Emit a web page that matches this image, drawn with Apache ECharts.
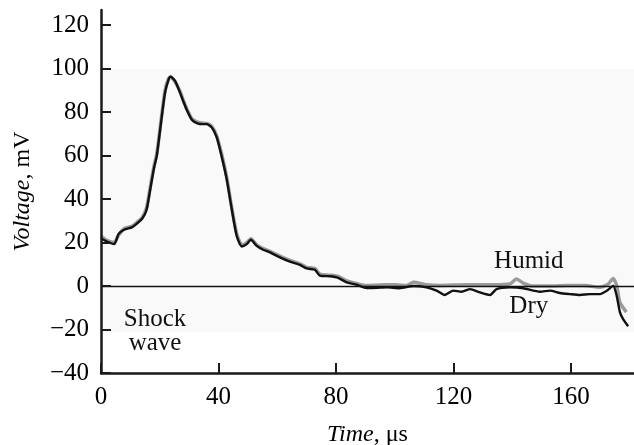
<!DOCTYPE html>
<html><head><meta charset="utf-8">
<script src="https://cdn.jsdelivr.net/npm/echarts@6/dist/echarts.min.js"></script>
<style>html,body{margin:0;padding:0;background:#fff}#c{width:634px;height:445px}</style>
</head><body><div id="c"></div>
<script>
const xTicks = [0, 40, 80, 120, 160];
const yTicks = [-40, -20, 0, 20, 40, 60, 80, 100, 120];

const dryTime = [0,2,4.5,6,8,10.5,12,14,15.5,16.7,18,19,20.6,21.8,23,23.7,25.2,26.9,28,29.2,30.9,32.6,34.5,36,37.7,39.4,41,42.8,44.5,46.2,47.9,49.6,51,53,55.2,57.5,60.9,64.3,67.7,70,72.8,74.5,77.9,80.7,83.6,87,90.4,94,97.2,101.7,106.3,110.8,114.2,117,119.9,122.7,125.6,129,132.4,134.6,139.2,143.7,149.4,152.8,156.2,159.6,163,166.4,169.8,172.6,174.3,175.5,176.6,177.7,179.4];
const dryVolt = [22,20.5,19.3,24,26,27,28.5,31,35,44,54,60,77,89,95,96.4,94.4,89,85,81,76.5,75,74.5,74.5,73,68.4,60,49,35.4,23,18.2,19.3,21.3,18.5,16.7,15.5,13.2,11.2,9.7,8.1,7.5,4.8,4.5,3.8,1.7,0.6,-0.9,-0.8,-0.6,-1,0,-0.6,-2.1,-4.1,-2.1,-2.6,-1.4,-2.9,-4.1,-1.4,-0.6,-1,-2.6,-2.1,-3.2,-3.7,-4.1,-3.7,-3.7,-1.7,0.2,-4.4,-12,-15.2,-18.5];

const humidTime = [0,2,4.5,6,8,10.5,12,14,15.5,16.7,18,19,20.6,21.8,23,23.7,25.2,26.9,28,29.2,30.9,32.6,34.5,36,37.7,39.4,41,42.8,44.5,46.2,47.9,49.6,51,53,55.2,57.5,60.9,64.3,67.7,70,72.8,74.5,77.9,80.7,83.6,87,90,95,100,104,106.3,110.8,115.3,124.4,133.5,139.2,141.4,143.7,147.1,152.8,158.4,164.6,169.8,172.6,174.3,175.5,176.6,178.8];
const humidVolt = [23,21,20,23.5,26.5,27.5,29,31.5,36,45,55,61,78,90,95.5,96,94,89.5,85.5,81.5,77,75.5,75,74.8,73.5,69,61,50,36,24,19,20,21.8,19,17.2,16,13.8,11.8,10.2,8.6,8,5.5,5,4.4,2.4,1.2,0.3,0.5,0.6,0.2,1.7,0.6,0.3,0.6,0.6,1,3.2,1.4,0,0,0.3,0.3,-0.6,0.9,3.5,0.3,-7.5,-12];

const zip = (t, v) => t.map((x, i) => [x, v[i]]);
const serif = '"Liberation Serif","DejaVu Serif",serif';
const minus = v => String(v).replace('-', '\u2212');

const chart = echarts.init(document.getElementById('c'), null, {renderer: 'canvas'});
chart.setOption({
  animation: false,
  backgroundColor: '#fff',
  grid: {left: 101, right: 0, top: 10, bottom: 72, containLabel: false, outerBoundsMode: 'none'},
  xAxis: {
    type: 'value', min: 0, max: 181.4, z: 10,
    name: '{i|Time}, μs', nameLocation: 'middle', nameGap: 50,
    nameTextStyle: {fontFamily: serif, fontSize: 24, color: '#000', rich: {i: {fontFamily: serif, fontStyle: 'italic', fontSize: 24, color: '#000'}}},
    axisLine: {show: true, onZero: false, lineStyle: {color: '#1a1a1a', width: 2.5}},
    axisTick: {show: true, inside: true, length: 10, lineStyle: {color: '#1a1a1a', width: 2}, customValues: xTicks},
    axisLabel: {fontFamily: serif, fontSize: 25, color: '#000', margin: 12, customValues: xTicks, formatter: minus},
    splitLine: {show: false}
  },
  yAxis: {
    type: 'value', min: -40, max: 127, z: 10,
    name: '{i|Voltage}, mV', nameLocation: 'middle', nameGap: 66, nameRotate: 90,
    nameTextStyle: {fontFamily: serif, fontSize: 24, color: '#000', rich: {i: {fontFamily: serif, fontStyle: 'italic', fontSize: 24, color: '#000'}}},
    axisLine: {show: true, onZero: false, lineStyle: {color: '#1a1a1a', width: 2.5}},
    axisTick: {show: true, inside: true, length: 10, lineStyle: {color: '#1a1a1a', width: 2}, customValues: yTicks},
    axisLabel: {fontFamily: serif, fontSize: 25, color: '#000', margin: 12, customValues: yTicks, formatter: minus},
    splitLine: {show: false}
  },
  series: [
    {
      name: 'Humid', type: 'line', data: zip(humidTime, humidVolt), showSymbol: false, smooth: 0.2,
      lineStyle: {color: '#9a9a9a', width: 3.5}, z: 2,
      markArea: {silent: true, z: 0, itemStyle: {color: '#f9f9f9'}, data: [[{coord: [-1.3, -21]}, {coord: [181.4, 100]}]]},
      markLine: {silent: true, symbol: 'none', label: {show: false}, lineStyle: {color: '#111', width: 1.3, type: 'solid'}, data: [{yAxis: 0}]}
    },
    {
      name: 'Dry', type: 'line', data: zip(dryTime, dryVolt), showSymbol: false, smooth: 0.2,
      lineStyle: {color: '#111', width: 2.4}, z: 3
    },
    {
      name: 'labels', type: 'scatter', symbolSize: 0, silent: true, z: 4,
      itemStyle: {opacity: 1},
      data: [
        {value: [145.6, 11.5], label: {formatter: 'Humid'}},
        {value: [145.6, -9.2], label: {formatter: 'Dry'}},
        {value: [18.4, -15.2], label: {formatter: 'Shock'}},
        {value: [18.4, -26.2], label: {formatter: 'wave'}}
      ],
      label: {show: true, position: 'inside', fontFamily: serif, fontSize: 25, color: '#111'}
    }
  ]
});
</script></body></html>
